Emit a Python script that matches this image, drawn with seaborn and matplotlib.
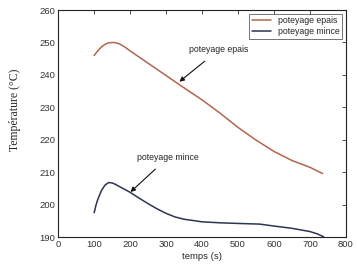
import pandas as pd
import matplotlib
matplotlib.use("Agg")
import matplotlib.pyplot as plt
import seaborn as sns

# Data
temps_epais = [100, 110, 120, 130, 140, 155, 170, 185, 200, 250, 300, 350,
               400, 450, 500, 550, 600, 650, 700, 735]
temp_epais = [246.0, 247.4, 248.6, 249.4, 249.9, 250.0, 249.6, 248.6, 247.4,
              243.6, 239.8, 236.0, 232.3, 228.2, 223.8, 219.9, 216.4, 213.6,
              211.5, 209.6]

temps_mince = [100, 105, 110, 120, 130, 140, 150, 160, 175, 200, 225, 250,
               275, 300, 325, 350, 400, 450, 500, 560, 600, 650, 700, 720, 738]
temp_mince = [197.5, 199.8, 201.6, 204.3, 206.0, 206.8, 206.7, 206.2, 205.3,
              203.8, 202.0, 200.3, 198.7, 197.3, 196.2, 195.5, 194.7, 194.4,
              194.2, 194.0, 193.4, 192.7, 191.7, 191.0, 190.1]

series_names = ["poteyage epais", "poteyage mince"]
series_colors = ["#b4654e", "#2c3552"]

df = pd.concat([
    pd.DataFrame({"temps": temps_epais, "T": temp_epais, "serie": series_names[0]}),
    pd.DataFrame({"temps": temps_mince, "T": temp_mince, "serie": series_names[1]}),
])

sns.set_style("white")
plt.rcParams["font.family"] = ["Liberation Sans", "DejaVu Sans"]

fig = plt.figure(figsize=(3.57, 2.64), dpi=100)
ax = fig.add_axes([0.163, 0.102, 0.806, 0.860])

sns.lineplot(data=df, x="temps", y="T", hue="serie", palette=series_colors,
             linewidth=1.1, ax=ax, sort=False)

ax.set_xlim(0, 800)
ax.set_ylim(190, 260)
ax.set_xticks(range(0, 801, 100))
ax.set_yticks(range(190, 261, 10))
ax.tick_params(direction="in", length=3, width=0.6, labelsize=6.8,
               top=True, right=True, colors="#333333", pad=2)
for sp in ax.spines.values():
    sp.set_color("#222222")
    sp.set_linewidth(0.8)

ax.set_xlabel("temps (s)", fontsize=6.8, labelpad=2)
ax.set_ylabel("Température (°C)", fontsize=8.5,
              family=["Liberation Serif", "DejaVu Serif"])
ax.yaxis.set_label_coords(-0.13, 0.56)

# annotations with arrows
ax.annotate("poteyage epais", xy=(337, 237.9), xytext=(446, 247.7),
            fontsize=6.3, ha="center", va="center",
            arrowprops=dict(arrowstyle="-|>", color="#111111", lw=0.8,
                            shrinkA=4, shrinkB=0, mutation_scale=7))
ax.annotate("poteyage mince", xy=(201, 203.9), xytext=(305, 214.5),
            fontsize=6.3, ha="center", va="center",
            arrowprops=dict(arrowstyle="-|>", color="#111111", lw=0.8,
                            shrinkA=4, shrinkB=0, mutation_scale=7))

leg = ax.legend(loc="upper right", fontsize=6.3, frameon=True, fancybox=False,
                edgecolor="#333333", handlelength=2.2, borderpad=0.3,
                labelspacing=0.2, borderaxespad=0.4, title=None)
leg.get_frame().set_linewidth(0.6)

fig.savefig("out.png", dpi=100)
